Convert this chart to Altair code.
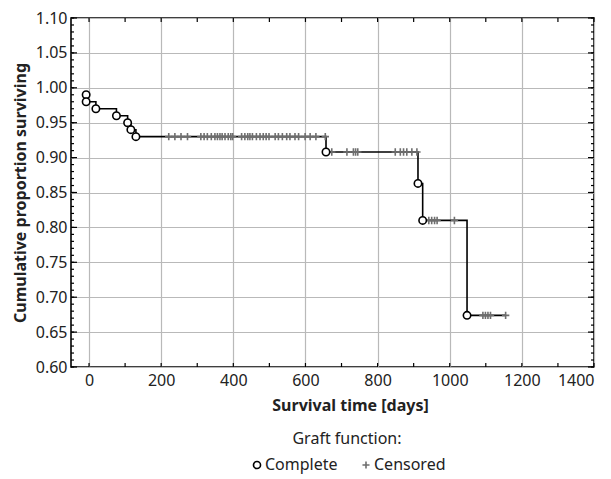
import altair as alt
import pandas as pd

# ---- data ----
event_days = [-8, -8, 19, 76, 107, 116, 130, 657, 912, 925, 1048]
event_surv = [0.99, 0.98, 0.97, 0.96, 0.95, 0.94, 0.93, 0.908, 0.863, 0.81, 0.674]

censored_days_a = [221, 238, 255, 273, 310, 319, 328, 339, 349, 356, 363, 369, 377,
                   386, 393, 398, 423, 432, 440, 446, 453, 464, 474, 483, 491, 499,
                   516, 525, 536, 548, 557, 571, 581, 599, 613, 629, 655]
censored_days_b = [673, 715, 733, 739, 745, 849, 863, 872, 881, 895, 909]
censored_days_c = [942, 950, 958, 965, 1013]
censored_days_d = [1092, 1099, 1106, 1113, 1155]
censored_levels = [0.93, 0.908, 0.81, 0.674]

end_day = 1155
end_surv = 0.674

x_ticks = [0, 200, 400, 600, 800, 1000, 1200, 1400]
x_minor = [0, 100, 200, 300, 400, 500, 600, 700, 800, 900, 1000, 1100, 1200, 1300, 1400]
y_ticks = [0.60, 0.65, 0.70, 0.75, 0.80, 0.85, 0.90, 0.95, 1.00, 1.05, 1.10]
y_minor = [round(0.60 + 0.01 * i, 2) for i in range(51)]

W, H = 523, 349
FONT = "Noto Sans"

# ---- tables ----
line_df = pd.DataFrame({
    "days": event_days + [end_day],
    "surv": event_surv + [end_surv],
    "i": list(range(len(event_days) + 1)),
})

cens_days = censored_days_a + censored_days_b + censored_days_c + censored_days_d
cens_surv = ([censored_levels[0]] * len(censored_days_a) + [censored_levels[1]] * len(censored_days_b)
             + [censored_levels[2]] * len(censored_days_c) + [censored_levels[3]] * len(censored_days_d))
pts_df = pd.concat([
    pd.DataFrame({"days": cens_days, "surv": cens_surv, "type": "Censored"}),
    pd.DataFrame({"days": event_days, "surv": event_surv, "type": "Complete"}),
], ignore_index=True)

xs = alt.Scale(domain=[-50, 1400], nice=False, zero=False)
ys = alt.Scale(domain=[0.60, 1.10], nice=False, zero=False)

x_axis = alt.Axis(values=x_ticks, format="d", title="Survival time [days]", grid=True,
                  ticks=False, domain=False, labelPadding=5, labelOverlap=False,
                  labelFontSize=16, titleFontSize=16, titleFontWeight="bold",
                  titlePadding=9, titleX=279, titleAlign="center",
                  gridColor="#b9b9b9", gridWidth=1.2)
y_axis = alt.Axis(values=y_ticks, format=".2f", title="Cumulative proportion surviving",
                  grid=True, ticks=False, domain=False, labelPadding=4, labelOverlap=False,
                  labelFontSize=16, titleFontSize=16, titleFontWeight="bold",
                  titlePadding=7, gridColor="#b9b9b9", gridWidth=1.2)

def X(field):
    return alt.X(field, scale=xs, axis=x_axis)

def Y(field):
    return alt.Y(field, scale=ys, axis=y_axis)

line = alt.Chart(line_df).mark_line(interpolate="step-after", color="black", strokeWidth=1.6).encode(
    x=X("days:Q"), y=Y("surv:Q"), order="i:Q")

cross_path = "M-1,0L1,0M0,-1L0,1"
leg = alt.Legend(title="Graft function:", orient="none", direction="horizontal",
                 legendX=178, legendY=413, titleAnchor="middle", titleOrient="top")
points = alt.Chart(pts_df).mark_point(filled=False, fill="white", strokeWidth=1.6, opacity=1, size=55).encode(
    x=X("days:Q"),
    y=Y("surv:Q"),
    shape=alt.Shape("type:N", scale=alt.Scale(domain=["Complete", "Censored"], range=["circle", cross_path]),
                    legend=leg),
    color=alt.Color("type:N", scale=alt.Scale(domain=["Complete", "Censored"], range=["black", "#6e6e6e"]),
                    legend=leg),
)

# inward ticks on all four sides
ym_df = pd.DataFrame({"surv": y_minor})
yM_df = pd.DataFrame({"surv": y_ticks})
xm_df = pd.DataFrame({"days": x_minor})

def yrule(df, x0, x1):
    return alt.Chart(df).mark_rule(color="black", strokeWidth=1.2).encode(
        y=Y("surv:Q"), x=alt.value(x0), x2=alt.value(x1))

def xrule(df, y0, y1):
    return alt.Chart(df).mark_rule(color="black", strokeWidth=1.2).encode(
        x=X("days:Q"), y=alt.value(y0), y2=alt.value(y1))

ticks = [
    yrule(ym_df, 0, 3), yrule(yM_df, 0, 6),
    yrule(ym_df, W, W - 3), yrule(yM_df, W, W - 6),
    xrule(xm_df, H, H - 4), xrule(xm_df, 0, 4),
]

chart = alt.layer(line, points, *ticks).properties(
    width=W, height=H,
    padding={"left": 4, "top": 2, "right": 8, "bottom": 4},
).configure_view(
    stroke="black", strokeWidth=1.6
).configure_axis(
    labelFont=FONT, titleFont=FONT, labelColor="#222", titleColor="#222"
).configure_legend(
    labelFont=FONT, titleFont=FONT, labelFontSize=16, titleFontSize=16,
    titleFontWeight="normal", labelColor="#222", titleColor="#222",
    symbolStrokeWidth=1.6, columnPadding=20, labelOffset=0, titlePadding=10,
    symbolSize=50
)

chart.save("out.html", embed_options={"renderer": "svg", "actions": False})
